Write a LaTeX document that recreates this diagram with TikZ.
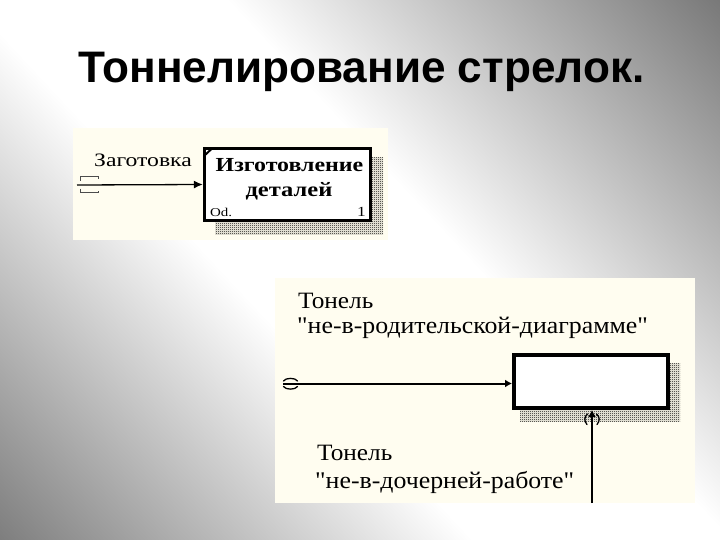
\documentclass[tikz,border=0pt]{standalone}
\usepackage{fontspec}
\setmainfont{Liberation Serif}
\newfontfamily\titlefont{Liberation Sans}
\newfontfamily\idefsmall[FakeStretch=1.25,Ligatures=TeXOff]{Liberation Serif}
\newfontfamily\idefbold[FakeStretch=1.2,Ligatures=TeXOff]{Liberation Serif}
\newfontfamily\idefbig[FakeStretch=1.08,Ligatures=TeXOff]{Liberation Serif}
\usetikzlibrary{arrows.meta,patterns}
\definecolor{idefpaper}{HTML}{FFFDF0}
\colorlet{slidegray}{black!55}
\pgfdeclarehorizontalshading{slidebg}{100bp}{color(0bp)=(slidegray); color(25bp)=(slidegray); color(45bp)=(white); color(55bp)=(white); color(75bp)=(slidegray); color(100bp)=(slidegray)}
\pgfdeclarepatternformonly{idefdither}{\pgfpointorigin}{\pgfqpoint{2bp}{2bp}}{\pgfqpoint{2bp}{2bp}}{%
	\pgfpathrectangle{\pgfpointorigin}{\pgfqpoint{1bp}{1bp}}%
	\pgfpathrectangle{\pgfqpoint{1bp}{1bp}}{\pgfqpoint{1bp}{1bp}}%
	\pgfusepath{fill}}

\tikzset{
	idefbox/.style={draw=black, fill=white, inner sep=0pt},
	idefshadow/.style={pattern=idefdither, pattern color=black},
	idefarrow/.style={draw=black, line width=#1},
	idefarrow/.default=1.3bp,
	ideftext/.style={inner sep=0pt},
	tunnelmark/.style={line width=1.3bp, line cap=round}
}

\begin{document}
\begin{tikzpicture}[x=1bp,y=-1bp]
			%%%%% START %%%%%
			
			\useasboundingbox (0,0) rectangle (720,540);
			\begin{scope}
				\clip (0,0) rectangle (720,540);
				\begin{scope}[transform canvas={shift={(350,270)}, rotate=43}]
					\shade[shading=slidebg] (-470,-720) rectangle (470,720);
				\end{scope}
			\end{scope}
			
			\node[ideftext, anchor=base west] (title) at (78,83) {\titlefont\bfseries\fontsize{44.3}{44.3}\selectfont Тоннелирование стрелок.};
			
			\fill[idefpaper] (73,128) rectangle (388,240);
			\fill[idefpaper] (275,278) rectangle (695,503);
			
			\fill[idefshadow] (215,158) rectangle (383,235);
			\node[idefbox, line width=3.3bp, minimum width=166bp, minimum height=72bp] (make) at (287.5,184.5) {};
			\draw[line width=2bp] (204.5,155.5) -- (212,148.5);
			\node[ideftext, anchor=base] (makeA) at (289.5,172) {\idefbold\bfseries\fontsize{20}{20}\selectfont Изготовление};
			\node[ideftext, anchor=base] (makeB) at (289,197) {\idefbold\bfseries\fontsize{20.5}{20.5}\selectfont деталей};
			\node[ideftext, anchor=base west] (cost) at (210,217) {\idefsmall\fontsize{12}{12}\selectfont Od.};
			\node[ideftext, anchor=base east] (num) at (366,217) {\idefsmall\fontsize{14}{14}\selectfont 1};
			
			\node[ideftext, anchor=base west] (blank) at (94,167) {\idefsmall\fontsize{19}{19}\selectfont Заготовка};
			\coordinate (blankin) at (77,185);
			\draw[idefarrow, -{Latex[length=9bp,width=8bp]}] (blankin) -- (make.west);
			\draw[tunnelmark, black!70, line width=1bp, line cap=butt] (80,181) -- (80,177) -- (98,177) -- (98,179);
			\draw[tunnelmark, black!70, line width=1bp, line cap=butt] (80,189) -- (80,193) -- (98,193) -- (98,191);
			
			\fill[idefshadow] (520,363) rectangle (680,421);
			\node[idefbox, line width=4bp, minimum width=154bp, minimum height=53bp] (work) at (591,381.5) {};
			
			\node[ideftext, anchor=base west] (tunA) at (298,308) {\idefbig\fontsize{23.5}{23.5}\selectfont Тонель};
			\node[ideftext, anchor=base west] (tunB) at (297,333) {\idefbig\fontsize{24}{24}\selectfont "не-в-родительской-диаграмме"};
			\coordinate (workin) at (283,383.5);
			\draw[idefarrow=2bp, -{Latex[length=7bp,width=8bp]}] (workin) -- (workin -| work.west);
			\draw[tunnelmark] (283.5,381) .. controls (285.5,377.5) and (295.5,377.5) .. (297.5,381);
			\draw[tunnelmark] (283.5,386.5) .. controls (285.5,390) and (295.5,390) .. (297.5,386.5);
			
			\node[ideftext, anchor=base west] (tunC) at (317,460) {\idefbig\fontsize{23.5}{23.5}\selectfont Тонель};
			\node[ideftext, anchor=base west] (tunD) at (315,488) {\idefbig\fontsize{24}{24}\selectfont "не-в-дочерней-работе"};
			\coordinate (workmech) at (592,503);
			\draw[idefarrow=2bp, -{Latex[length=7bp,width=8bp]}] (workmech) -- (workmech |- work.south);
			\draw[tunnelmark] (587.5,414) .. controls (584,417) and (584,421) .. (587,424.5);
			\draw[tunnelmark] (596.5,414) .. controls (600,417) and (600,421) .. (597,424.5);
			
			%%%%% END %%%%%
\end{tikzpicture}
\end{document}
